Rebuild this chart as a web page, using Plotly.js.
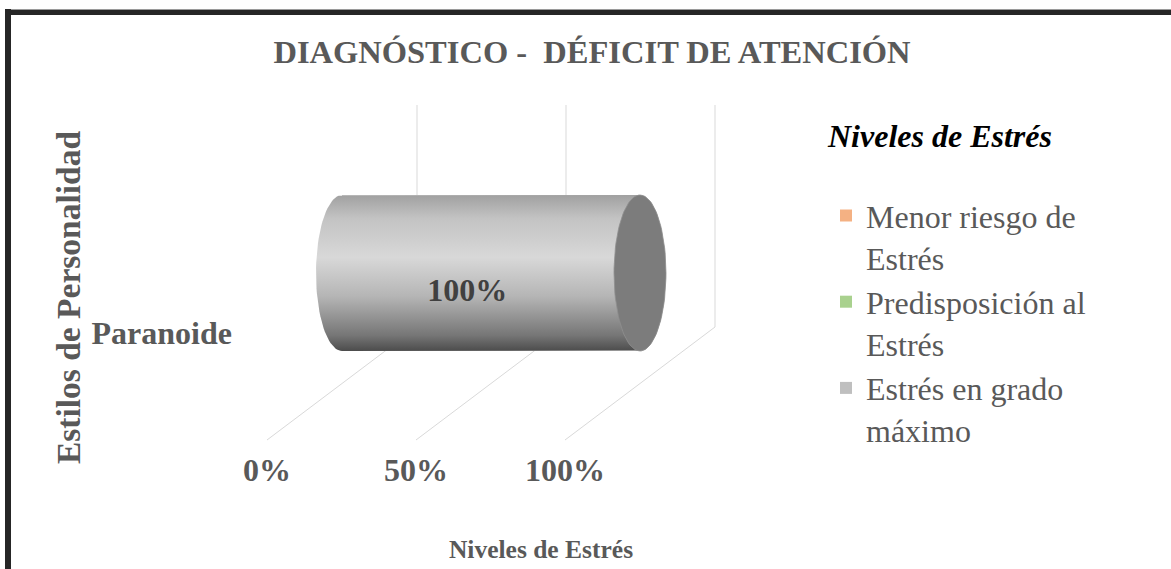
<!DOCTYPE html>
<html>
<head>
<meta charset="utf-8">
<script src="https://cdn.plot.ly/plotly-3.0.1.min.js"></script>
<style>
  html, body { margin: 0; padding: 0; background: #ffffff; }
  #wrap { position: relative; width: 1171px; height: 569px; overflow: hidden; }
  #chart { position: absolute; left: 0; top: 0; width: 1171px; height: 569px; }
  .frameTop { position: absolute; left: 5px; top: 9px; width: 1166px; height: 6px; background: #262626; border-top: 1px solid #9a9a9a; box-sizing: border-box; }
  .frameLeft { position: absolute; left: 5px; top: 9px; width: 6px; height: 560px; background: #262626; }
</style>
</head>
<body>
<div id="wrap">
  <div id="chart"></div>
  <div class="frameTop"></div>
  <div class="frameLeft"></div>
</div>
<script>
// ---------------- DATA ----------------
const chartTitle = 'DIAGNÓSTICO -\u00A0\u00A0DÉFICIT DE ATENCIÓN';
const categories = ['Paranoide'];
const seriesNames = ['Menor riesgo de Estrés', 'Predisposición al Estrés', 'Estrés en grado máximo'];
const menorRiesgo = [0];
const predisposicion = [0];
const gradoMaximo = [1];
const seriesColors = ['#F4B183', '#A9D18E', '#BFBFBF'];
const xTickVals = [0, 0.5, 1];
const xTickText = ['0%', '50%', '100%'];
const xAxisTitle = 'Niveles de Estrés';
const yAxisTitle = 'Estilos de Personalidad';
const legendTitle = 'Niveles de Estrés';

// ---------------- LAYOUT GEOMETRY (pixels) ----------------
const W = 1171, H = 569;
const M = { l: 240, r: 1171 - 842, t: 105, b: 569 - 490 };
const plotW = W - M.l - M.r, plotH = H - M.t - M.b;
const pxPerX = 298;              // pixels per 100 %
const zeroPx = 27;               // x=0 (front plane) offset from plot left
const pxPerY = 156;              // pixels per category unit (bar thickness)
const catCenterFromTop = 168;    // category centre below plot top
const depthDX = 150, depthDY = 113;   // back-plane shift in px
const frontFloorFromTop = 335;   // front floor line below plot top

const xRange = [-zeroPx / pxPerX, (plotW - zeroPx) / pxPerX];
const yRange = [-(plotH - catCenterFromTop) / pxPerY, catCenterFromTop / pxPerY];
const dX = depthDX / pxPerX, dY = depthDY / pxPerY;
const frontFloorY = -(frontFloorFromTop - catCenterFromTop) / pxPerY;
const backFloorY = frontFloorY + dY;
const barOffset = dX / 2;        // bars sit half way into the depth
const barWidth = 1;
const capHalfW = 26 / pxPerX;

// ---------------- helpers ----------------
function shade(hex, f) {
  const n = parseInt(hex.slice(1), 16);
  const c = [(n >> 16) & 255, (n >> 8) & 255, n & 255].map(v => Math.max(0, Math.min(255, Math.round(v * f))));
  return 'rgb(' + c.join(',') + ')';
}
function wrapName(s) {
  const i = s.lastIndexOf(' ');
  return s.slice(0, i) + '<br>' + s.slice(i + 1);
}

const allSeries = [menorRiesgo, predisposicion, gradoMaximo];
const traces = [];
const cylTraces = [];
const labelTraces = [];
const cum = categories.map(() => 0);

allSeries.forEach((vals, s) => {
  const bases = vals.map((v, i) => barOffset + cum[i]);
  traces.push({
    type: 'bar', orientation: 'h',
    name: wrapName(seriesNames[s]),
    y: categories.map((c, i) => i),
    x: vals,
    base: bases,
    width: barWidth,
    marker: { color: seriesColors[s], line: { width: 0 } },
    hoverinfo: 'skip'
  });
  vals.forEach((v, i) => {
    if (v <= 0) { cum[i] += v; return; }
    const x0 = barOffset + cum[i], x1 = x0 + v;
    const b = barWidth / 2, a = capHalfW, N = 48;
    const bx = [], by = [];
    bx.push(x1, x0); by.push(i + b, i + b);
    for (let k = 0; k <= N; k++) { const t = Math.PI / 2 + Math.PI * k / N; bx.push(x0 + a * Math.cos(t)); by.push(i + b * Math.sin(t)); }
    bx.push(x1); by.push(i - b);
    for (let k = 0; k <= N; k++) { const t = -Math.PI / 2 + Math.PI * k / N; bx.push(x1 + a * Math.cos(t)); by.push(i + b * Math.sin(t)); }
    const base = seriesColors[s];
    cylTraces.push({
      type: 'scatter', mode: 'lines', x: bx, y: by, fill: 'toself',
      line: { width: 0, color: 'rgba(0,0,0,0)' },
      fillgradient: { type: 'vertical', colorscale: [
        [0, shade(base, 0.40)], [0.1, shade(base, 0.62)], [0.35, shade(base, 0.95)],
        [0.6, shade(base, 1.13)], [0.85, shade(base, 1.02)], [1, shade(base, 0.84)]
      ] },
      showlegend: false, hoverinfo: 'skip'
    });
    const cx = [], cy = [];
    for (let k = 0; k <= 2 * N; k++) { const t = 2 * Math.PI * k / (2 * N); cx.push(x1 + a * Math.cos(t)); cy.push(i + b * Math.sin(t)); }
    cylTraces.push({
      type: 'scatter', mode: 'lines', x: cx, y: cy, fill: 'toself',
      fillcolor: shade(base, 0.65),
      line: { width: 0.8, color: shade(base, 0.75) },
      showlegend: false, hoverinfo: 'skip'
    });
    labelTraces.push({
      type: 'scatter', mode: 'text',
      x: [x0 + v * 0.42], y: [i - 0.13],
      text: [Math.round(v * 100) + '%'],
      textfont: { family: 'Liberation Serif', size: 32, weight: 'bold', color: '#404040' },
      showlegend: false, hoverinfo: 'skip'
    });
    cum[i] += v;
  });
});

// grid on back wall and floor
const shapes = [];
xTickVals.forEach(t => {
  shapes.push({ type: 'line', xref: 'x', yref: 'y', layer: 'below',
    x0: t + dX, x1: t + dX, y0: backFloorY, y1: yRange[1],
    line: { color: '#d9d9d9', width: 1 } });
  shapes.push({ type: 'line', xref: 'x', yref: 'y', layer: 'below',
    x0: t, x1: t + dX, y0: frontFloorY, y1: backFloorY,
    line: { color: '#d9d9d9', width: 1 } });
});

const layout = {
  width: W, height: H,
  margin: M,
  paper_bgcolor: '#ffffff', plot_bgcolor: 'rgba(0,0,0,0)',
  font: { family: 'Liberation Serif', color: '#595959' },
  showlegend: true,
  barmode: 'overlay',
  title: {
    text: chartTitle, xref: 'container', yref: 'container',
    x: 592 / W, y: 1 - 52 / H, xanchor: 'center', yanchor: 'middle',
    font: { family: 'Liberation Serif', size: 32.5, weight: 'bold', color: '#595959' }
  },
  xaxis: {
    range: xRange, tickvals: xTickVals, ticktext: xTickText,
    showgrid: false, zeroline: false, showline: false, ticks: '',
    ticklabelposition: 'inside', automargin: false, fixedrange: true,
    tickfont: { family: 'Liberation Serif', size: 32, weight: 'bold', color: '#595959' },
    title: { text: xAxisTitle, standoff: 53,
      font: { family: 'Liberation Serif', size: 25.5, weight: 'bold', color: '#595959' } }
  },
  yaxis: {
    range: yRange, tickvals: categories.map((c, i) => i), ticktext: categories,
    showgrid: false, zeroline: false, showline: false, ticks: '',
    ticklabelshift: 60, ticklabelstandoff: 7, automargin: false, fixedrange: true,
    tickfont: { family: 'Liberation Serif', size: 32, weight: 'bold', color: '#595959' },
    title: { text: yAxisTitle, standoff: 0,
      font: { family: 'Liberation Serif', size: 33.5, weight: 'bold', color: '#595959' } }
  },
  legend: {
    x: (826 - M.l) / plotW, y: 1, xanchor: 'left', yanchor: 'top',
    traceorder: 'normal', valign: 'top', bgcolor: 'rgba(0,0,0,0)',
    font: { family: 'Liberation Serif', size: 32, color: '#595959' },
    title: { text: legendTitle + '<br> ', side: 'top',
      font: { family: 'Liberation Serif', size: 32, weight: 'bold', style: 'italic', color: '#000000' } }
  },
  shapes: shapes
};

Plotly.newPlot('chart', traces.concat(cylTraces, labelTraces), layout, { staticPlot: true, displayModeBar: false });
</script>
</body>
</html>
